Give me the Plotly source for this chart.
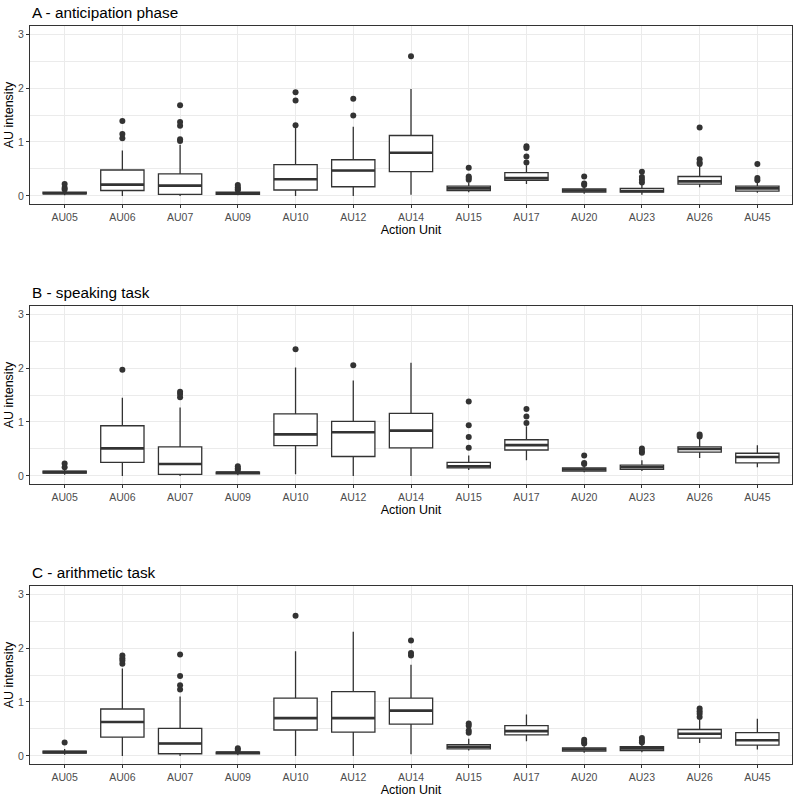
import plotly.graph_objects as go

categories = ["AU05", "AU06", "AU07", "AU09", "AU10", "AU12", "AU14",
              "AU15", "AU17", "AU20", "AU23", "AU26", "AU45"]

panel_titles = ["A - anticipation phase", "B - speaking task", "C - arithmetic task"]

# Panel A - anticipation phase
a_lower = [0.01, 0.00, 0.00, 0.01, 0.00, 0.00, 0.02, 0.07, 0.22, 0.04, 0.02, 0.16, 0.06]
a_q1 = [0.04, 0.10, 0.03, 0.03, 0.11, 0.17, 0.45, 0.10, 0.29, 0.07, 0.07, 0.22, 0.09]
a_med = [0.05, 0.21, 0.19, 0.05, 0.31, 0.47, 0.80, 0.14, 0.33, 0.10, 0.09, 0.27, 0.14]
a_q3 = [0.07, 0.48, 0.41, 0.07, 0.58, 0.67, 1.12, 0.18, 0.43, 0.13, 0.14, 0.36, 0.18]
a_upper = [0.10, 0.84, 0.95, 0.09, 1.27, 1.28, 1.98, 0.25, 0.57, 0.17, 0.21, 0.56, 0.27]
a_out = [[0.12, 0.15, 0.22], [1.07, 1.15, 1.39], [1.02, 1.05, 1.30, 1.37, 1.68],
         [0.11, 0.13, 0.16, 0.20], [1.31, 1.77, 1.92], [1.49, 1.80], [2.59],
         [0.30, 0.33, 0.36, 0.52], [0.62, 0.73, 0.89, 0.92], [0.20, 0.23, 0.36],
         [0.25, 0.30, 0.35, 0.45], [0.59, 0.62, 0.68, 1.27], [0.29, 0.33, 0.59]]

# Panel B - speaking task
b_lower = [0.02, 0.00, 0.00, 0.01, 0.03, 0.00, 0.00, 0.11, 0.29, 0.07, 0.09, 0.33, 0.16]
b_q1 = [0.05, 0.25, 0.03, 0.04, 0.56, 0.36, 0.52, 0.15, 0.48, 0.09, 0.12, 0.44, 0.24]
b_med = [0.07, 0.51, 0.22, 0.06, 0.77, 0.81, 0.84, 0.18, 0.57, 0.12, 0.16, 0.50, 0.35]
b_q3 = [0.09, 0.93, 0.54, 0.07, 1.15, 1.01, 1.16, 0.25, 0.67, 0.15, 0.20, 0.54, 0.42]
b_upper = [0.12, 1.45, 1.27, 0.10, 2.01, 1.77, 2.10, 0.38, 0.92, 0.18, 0.29, 0.70, 0.57]
b_out = [[0.16, 0.23], [1.97], [1.46, 1.52, 1.56], [0.11, 0.14, 0.18], [2.35], [2.05], [],
         [0.52, 0.72, 0.94, 1.38], [0.98, 1.10, 1.24], [0.22, 0.24, 0.38],
         [0.43, 0.46, 0.51], [0.73, 0.77], []]

# Panel C - arithmetic task
c_lower = [0.02, 0.00, 0.00, 0.01, 0.00, 0.00, 0.03, 0.10, 0.27, 0.06, 0.07, 0.24, 0.12]
c_q1 = [0.05, 0.35, 0.04, 0.04, 0.48, 0.44, 0.59, 0.13, 0.39, 0.09, 0.10, 0.33, 0.20]
c_med = [0.07, 0.63, 0.23, 0.06, 0.70, 0.70, 0.84, 0.17, 0.46, 0.12, 0.14, 0.41, 0.29]
c_q3 = [0.09, 0.87, 0.51, 0.07, 1.07, 1.19, 1.07, 0.21, 0.56, 0.15, 0.17, 0.49, 0.43]
c_upper = [0.13, 1.62, 1.10, 0.10, 1.94, 2.30, 1.69, 0.32, 0.77, 0.18, 0.22, 0.67, 0.69]
c_out = [[0.25], [1.71, 1.77, 1.81, 1.86], [1.23, 1.31, 1.48, 1.88], [0.11, 0.14],
         [2.60], [], [1.86, 1.91, 2.14], [0.43, 0.47, 0.56, 0.60], [],
         [0.23, 0.26, 0.30], [0.25, 0.28, 0.33], [0.72, 0.78, 0.83, 0.88], []]

panels = [
    (a_lower, a_q1, a_med, a_q3, a_upper, a_out),
    (b_lower, b_q1, b_med, b_q3, b_upper, b_out),
    (c_lower, c_q1, c_med, c_q3, c_upper, c_out),
]

W = H = 797
px_top = [26, 306, 586]
px_bot = [204, 484, 764]
px_left, px_right = 30, 792
box_w = 0.75
dark = "#333333"
FONT = "Liberation Sans, Arial"

fig = go.Figure()
xs = list(range(len(categories)))

for k, (lo, q1, med, q3, up, outs) in enumerate(panels):
    xa = "x" if k == 0 else f"x{k+1}"
    ya = "y" if k == 0 else f"y{k+1}"
    fig.add_trace(go.Box(
        x=xs, q1=q1, median=med, q3=q3, lowerfence=lo, upperfence=up,
        width=box_w, fillcolor="white", line=dict(color=dark, width=1.3),
        whiskerwidth=0, boxpoints=False, xaxis=xa, yaxis=ya, showlegend=False,
        hoverinfo="skip"))
    # thicker median bars (ggplot style)
    mx, my = [], []
    for i, m in enumerate(med):
        mx += [i - box_w / 2, i + box_w / 2, None]
        my += [m, m, None]
    fig.add_trace(go.Scatter(x=mx, y=my, mode="lines",
                             line=dict(color=dark, width=2.6),
                             xaxis=xa, yaxis=ya, showlegend=False, hoverinfo="skip"))
    ox, oy = [], []
    for i, vals in enumerate(outs):
        for v in vals:
            ox.append(i)
            oy.append(v)
    fig.add_trace(go.Scatter(x=ox, y=oy, mode="markers",
                             marker=dict(color=dark, size=6),
                             xaxis=xa, yaxis=ya, showlegend=False, hoverinfo="skip"))

    dom_y = [1 - px_bot[k] / H, 1 - px_top[k] / H]
    dom_x = [px_left / W, px_right / W]
    axis_common = dict(showline=True, mirror=True, linecolor=dark, linewidth=1,
                       ticks="outside", ticklen=3, tickcolor=dark, tickwidth=1,
                       gridcolor="#EBEBEB", gridwidth=1, zeroline=False,
                       tickfont=dict(family=FONT, size=10.5, color="#4D4D4D"))
    xkey = "xaxis" if k == 0 else f"xaxis{k+1}"
    ykey = "yaxis" if k == 0 else f"yaxis{k+1}"
    fig.update_layout(**{
        xkey: dict(domain=dom_x, anchor=ya, range=[-0.6, len(categories) - 0.4],
                   tickmode="array", tickvals=xs, ticktext=categories,
                   title=dict(text="Action Unit", standoff=1,
                              font=dict(family=FONT, size=12.5, color="black")),
                   **axis_common),
        ykey: dict(domain=dom_y, anchor=xa, range=[-0.15, 3.15],
                   tickmode="array", tickvals=[0, 1, 2, 3],
                   minor=dict(tickvals=[0.5, 1.5, 2.5], showgrid=True,
                              gridcolor="#EBEBEB", gridwidth=0.6, ticks=""),
                   title=dict(text="AU intensity", standoff=1,
                              font=dict(family=FONT, size=12.5, color="black")),
                   **axis_common),
    })
    fig.add_annotation(text=panel_titles[k], xref="paper", yref="paper",
                       x=px_left / W, y=1 - (px_top[k] - 14) / H,
                       xanchor="left", yanchor="middle", showarrow=False,
                       font=dict(family=FONT, size=15.3, color="black"))

fig.update_layout(width=W, height=H, margin=dict(l=0, r=0, t=0, b=0),
                  paper_bgcolor="white", plot_bgcolor="white")

fig.write_html("out.html", config={"displayModeBar": False},
               post_script="document.body.style.margin='0';document.body.style.overflow='hidden';")
